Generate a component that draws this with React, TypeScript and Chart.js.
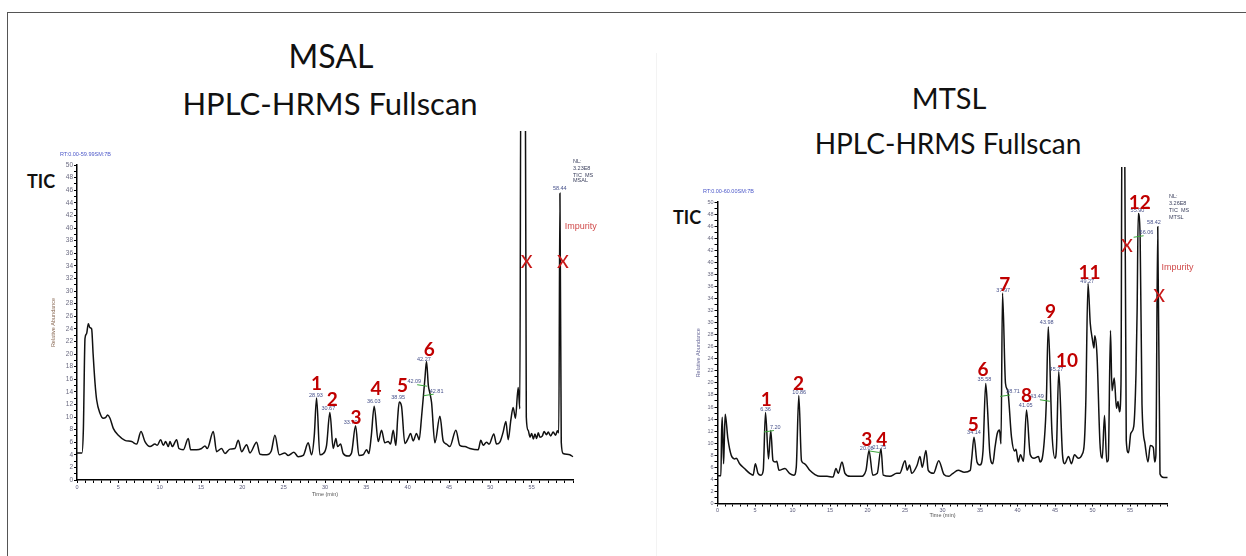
import React, { useEffect, useRef } from 'react';
import { Chart, registerables } from 'chart.js';

Chart.register(...registerables);
Chart.defaults.font.family = '"Liberation Sans", Arial, sans-serif';

// ---------- axis tick labels ----------
const TIME_TICK_LABELS = ['0', '5', '10', '15', '20', '25', '30', '35', '40', '45', '50', '55'];
const ABUND_TICK_LABELS = ['0', '2', '4', '6', '8', '10', '12', '14', '16', '18', '20', '22', '24', '26', '28', '30', '32', '34', '36', '38', '40', '42', '44', '46', '48', '50'];

// ---------- MSAL chromatogram (time, min / relative abundance, %) ----------
const MSAL_TIME = [0, 0.6, 0.77, 0.97, 1.15, 1.37, 1.55, 1.77, 1.95, 2.18, 2.38, 2.78, 3.18, 3.45, 3.71, 3.99, 4.39, 5.0, 5.8, 6.61, 7.22, 7.74, 8.22, 8.83, 9.43, 9.71, 10.12, 10.44, 10.72, 11.04, 11.25, 11.53, 12.05, 12.33, 12.86, 13.46, 13.74, 14.47, 15.07, 15.48, 15.76, 16.49, 16.89, 17.49, 17.9, 18.5, 19.1, 19.51, 19.91, 20.52, 20.92, 21.73, 22.13, 22.93, 23.5, 23.94, 24.47, 25.15, 25.55, 26.24, 26.76, 27.37, 27.97, 28.38, 28.7, 28.98, 29.38, 29.8, 30.19, 30.59, 30.99, 31.32, 31.52, 31.88, 32.2, 32.81, 33.21, 33.7, 34.1, 34.62, 35.03, 35.31, 35.6, 35.95, 36.44, 36.84, 37.24, 37.65, 37.93, 38.25, 38.57, 38.8, 38.98, 39.26, 39.66, 40.06, 40.35, 40.67, 41.07, 41.39, 41.68, 42.08, 42.28, 42.5, 42.69, 42.89, 43.29, 43.9, 44.3, 44.7, 45.1, 45.83, 46.31, 46.92, 47.52, 48.53, 48.85, 49.13, 49.54, 49.86, 50.42, 50.75, 51.15, 51.55, 51.88, 52.16, 52.48, 52.76, 53.04, 53.37, 53.57, 53.7, 54.22, 54.35, 54.57, 54.8, 55.0, 55.2, 55.4, 55.6, 55.8, 56.0, 56.3, 56.5, 56.8, 57.0, 57.3, 57.6, 57.9, 58.1, 58.28, 58.42, 58.58, 58.81, 59.61, 60.0];
const MSAL_ABUND = [4.3, 4.3, 8, 22.5, 23.2, 24.8, 24.2, 24.0, 20, 15.4, 12.7, 10.6, 9.8, 9.9, 10.3, 9.8, 8.2, 7.1, 6.3, 6.1, 5.7, 7.7, 6.1, 5.3, 5.7, 5.5, 6.4, 5.5, 6.1, 5.3, 6.1, 5.3, 6.4, 5.0, 4.8, 6.6, 4.8, 4.8, 5.0, 5.4, 5.0, 7.7, 4.5, 5.0, 4.2, 4.9, 5.0, 6.3, 4.5, 5.6, 4.3, 6.0, 4.1, 4.0, 4.6, 7.1, 4.0, 4.3, 3.9, 4.4, 3.7, 3.9, 5.9, 4.0, 7, 13.0, 4.0, 4.2, 5.5, 10.7, 5.0, 6.6, 5.3, 5.7, 4.2, 3.8, 4.3, 8.6, 3.9, 4.0, 4.8, 4.2, 7, 11.7, 6.1, 7.9, 5.9, 6.1, 5.7, 7.9, 5.5, 10, 12.4, 11.7, 5.8, 6.6, 7.4, 6.2, 7.4, 6.4, 10, 16, 18.8, 15, 13.8, 12.3, 5.9, 10.1, 6.2, 5.7, 5.3, 7.9, 5.5, 5.3, 5.0, 4.8, 6.3, 5.5, 6.0, 5.7, 7.3, 5.7, 6.0, 7.6, 9.3, 6.4, 9.5, 11.5, 9.8, 14.7, 11.3, 70, 70, 10, 7.9, 6.8, 7.4, 6.5, 7.3, 6.6, 7.5, 6.8, 7.0, 7.7, 7.2, 7.6, 7.0, 7.6, 7.1, 7.8, 7.5, 45.5, 6, 4.2, 4.0, 3.7];

const MSAL_PEAK_NUMS = ['1', '2', '3', '4', '5', '6'];
const MSAL_PEAK_NUM_T = [28.98, 30.87, 33.74, 36.16, 39.38, 42.6];
const MSAL_PEAK_NUM_V = [15.3, 12.7, 9.9, 14.4, 14.9, 20.6];
const MSAL_RT_LABELS = ['28.93', '30.67', '33.70', '36.03', '38.95', '42.09', '42.27', '42.81', '58.44'];
const MSAL_RT_T = [28.9, 30.4, 33.1, 35.9, 38.85, 40.8, 41.96, 43.5, 58.4];
const MSAL_RT_V = [13.4, 11.3, 9.2, 12.5, 13.1, 15.6, 19.2, 14.1, 46.2];
const MSAL_RT_LEADER = [0, 0, 0, 0, 0, 1, 0, -1, 0];
const MSAL_X_T = [54.4, 58.77];
const MSAL_X_V = [34.6, 34.6];
const MSAL_IMPURITY = [59.0, 40.3];
const MSAL_NL_LINES = ['NL:', '3.23E8', 'TIC  MS', 'MSAL'];
const MSAL_NL_V = [50.5, 49.5, 48.4, 47.5];
const MSAL_RT_RANGE = 'RT:0.00-59.99SM:7B';

// ---------- MTSL chromatogram ----------
const MTSL_TIME = [0, 0.45, 0.55, 0.63, 0.81, 0.9, 1.03, 1.38, 1.83, 2.28, 2.5, 2.95, 3.6, 4.3, 4.75, 5.05, 5.4, 5.8, 6.1, 6.4, 6.8, 7.1, 7.4, 7.7, 7.9, 8.2, 9.0, 9.6, 10.2, 10.5, 10.84, 11.2, 11.6, 12.3, 13.0, 13.7, 14.6, 15.4, 15.8, 16.1, 16.6, 17.0, 17.7, 19.1, 19.8, 20.2, 20.7, 21.3, 21.8, 22.1, 23.0, 23.9, 24.3, 25.0, 25.3, 25.6, 25.9, 26.6, 27.0, 27.3, 27.8, 28.1, 28.8, 29.5, 30.2, 30.8, 31.3, 32.1, 32.9, 33.7, 33.9, 34.2, 34.6, 35.0, 35.4, 35.76, 36.0, 36.3, 36.7, 37.0, 37.3, 37.6, 37.8, 38.0, 38.4, 38.7, 39.2, 39.6, 39.8, 40.1, 40.4, 40.8, 41.2, 41.7, 42.2, 42.8, 43.0, 43.3, 43.7, 43.85, 44.1, 44.6, 45.0, 45.2, 45.5, 46.0, 46.3, 46.8, 47.2, 47.6, 48.1, 48.6, 48.9, 49.1, 49.4, 49.7, 50.0, 50.2, 50.3, 50.6, 51.0, 51.3, 51.6, 51.9, 52.1, 52.4, 52.6, 52.9, 53.2, 53.4, 53.6, 53.8, 53.95, 54.25, 54.5, 54.8, 55.1, 55.5, 55.8, 55.95, 56.1, 56.35, 56.6, 57.0, 57.4, 57.7, 58.1, 58.3, 58.45, 58.7, 59.0, 59.5, 60.0];
const MTSL_ABUND = [4.6, 4.6, 12, 14.3, 6.6, 10, 14.8, 10.8, 8.0, 7.4, 7.5, 6.6, 5.8, 5.0, 4.7, 6.6, 5.0, 4.7, 5.5, 15.1, 7.4, 12.1, 7.1, 6.9, 7.0, 5.5, 5.8, 5.0, 4.7, 6, 17.9, 7.1, 6.6, 5.5, 4.8, 4.5, 4.5, 4.4, 5.8, 5.0, 6.9, 5.0, 4.5, 4.5, 5.5, 8.8, 4.7, 5.0, 9.1, 4.7, 4.5, 5.0, 5.0, 7.1, 5.5, 6.4, 5.0, 6.3, 7.8, 6.0, 8.8, 5.5, 5.0, 7.1, 4.8, 4.5, 4.9, 5.5, 5.2, 5.5, 7.5, 11.0, 6.9, 6.4, 8.7, 19.9, 15.8, 8.5, 6.6, 9.3, 11.6, 12.2, 9.9, 34.9, 19.9, 18.7, 11.0, 8.7, 9.0, 6.9, 8.1, 7.0, 15.5, 8.1, 7.5, 7.8, 6.9, 7.5, 12.8, 17.2, 29.3, 11.6, 7.5, 9.3, 21.9, 8.1, 6.6, 7.8, 6.6, 8.1, 7.5, 8.1, 9.9, 16.4, 36.5, 29.9, 27.1, 25.8, 27.8, 24.6, 9.9, 7.5, 14.6, 6.9, 7.2, 28.7, 18.7, 20.8, 15.8, 16.9, 15.2, 19.9, 70, 70, 10.5, 8.4, 11.6, 12.8, 21.6, 32, 48.1, 44.4, 16.4, 9.9, 6.9, 9.6, 9.3, 6.9, 8, 45.9, 4.9, 4.3, 4.3];

const MTSL_PEAK_NUMS = ['1', '2', '3', '4', '5', '6', '7', '8', '9', '10', '11', '12'];
const MTSL_PEAK_NUM_T = [6.5, 10.8, 19.9, 21.9, 34.1, 35.4, 38.3, 41.2, 44.4, 46.6, 49.6, 56.3];
const MTSL_PEAK_NUM_V = [17.2, 19.9, 10.5, 10.6, 13.0, 22.1, 36.2, 17.8, 31.8, 23.6, 38.2, 49.9];
const MTSL_RT_LABELS = ['6.36', '7.20', '10.86', '20.08', '21.75', '34.14', '35.58', '37.97', '38.71', '41.05', '43.49', '43.98', '45.27', '49.27', '55.90', '56.06', '58.42'];
const MTSL_RT_T = [6.4, 7.7, 10.9, 19.9, 21.6, 34.2, 35.6, 38.1, 39.4, 41.1, 42.6, 43.9, 45.2, 49.3, 56.0, 57.2, 58.2];
const MTSL_RT_V = [15.6, 12.6, 18.4, 9.2, 9.3, 11.7, 20.5, 35.3, 18.5, 16.2, 17.7, 30.1, 22.3, 36.8, 48.6, 44.9, 46.6];
const MTSL_RT_LEADER = [0, -1, 0, 1, 0, 0, 0, 0, -1, 0, 1, 0, 0, 0, 0, -1, 0];
const MTSL_X_T = [54.6, 58.9];
const MTSL_X_V = [42.7, 34.4];
const MTSL_IMPURITY = [59.2, 39.1];
const MTSL_NL_LINES = ['NL:', '3.26E8', 'TIC  MS', 'MTSL'];
const MTSL_NL_V = [50.9, 49.8, 48.6, 47.5];
const MTSL_RT_RANGE = 'RT:0.00-60.00SM:7B';

type Spec = {
  time: number[];
  abund: number[];
  peakNums: string[];
  peakT: number[];
  peakV: number[];
  rtLabels: string[];
  rtT: number[];
  rtV: number[];
  rtLeader: number[];
  xT: number[];
  xV: number[];
  impurity: number[];
  nlLines: string[];
  nlT: number;
  nlV: number[];
  rtRange: string;
  rtRangeT: number;
  rtRangeV: number;
  clipTop: number;
  padding: { left: number; right: number; top: number; bottom: number };
  yAxisW: number;
  xAxisH: number;
  yTickSize: number;
  yTitleColor: string;
};

function makeAnnotationPlugin(spec: Spec) {
  return {
    id: 'chromAnnotations',
    afterDatasetsDraw(chart: any) {
      const ctx = chart.ctx as CanvasRenderingContext2D;
      const xs = chart.scales.x;
      const ys = chart.scales.y;
      const X = (t: number) => xs.getPixelForValue(t);
      const Y = (v: number) => ys.getPixelForValue(v);
      ctx.save();
      ctx.textBaseline = 'middle';

      ctx.font = '5.5px "Liberation Sans"';
      ctx.textAlign = 'left';
      ctx.fillStyle = '#4b57c8';
      ctx.fillText(spec.rtRange, X(spec.rtRangeT), Y(spec.rtRangeV));

      ctx.fillStyle = '#3a3f5c';
      spec.nlLines.forEach((s, i) => ctx.fillText(s, X(spec.nlT), Y(spec.nlV[i])));

      ctx.textAlign = 'center';
      spec.rtLabels.forEach((s, i) => {
        const x = X(spec.rtT[i]);
        const y = Y(spec.rtV[i]);
        ctx.fillStyle = '#46508a';
        ctx.fillText(s, x, y);
        const dir = spec.rtLeader[i];
        if (dir !== 0) {
          const w = ctx.measureText(s).width;
          const x0 = dir > 0 ? x + w / 2 - 4 : x - w / 2 + 4;
          ctx.strokeStyle = '#3aa53a';
          ctx.lineWidth = 1;
          ctx.beginPath();
          ctx.moveTo(x0, y + 3);
          ctx.lineTo(x0 + dir * 10, y + 4.5);
          ctx.stroke();
        }
      });

      ctx.fillStyle = '#c00000';
      ctx.font = 'bold 19px Lato';
      spec.peakNums.forEach((s, i) => ctx.fillText(s, X(spec.peakT[i]), Y(spec.peakV[i])));

      ctx.font = '500 18px Lato';
      ctx.fillStyle = '#c81818';
      spec.xT.forEach((t, i) => ctx.fillText('X', X(t), Y(spec.xV[i])));

      ctx.font = '9px "Liberation Sans"';
      ctx.fillStyle = '#d04a4a';
      ctx.textAlign = 'left';
      ctx.fillText('Impurity', X(spec.impurity[0]), Y(spec.impurity[1]));
      ctx.restore();
    },
  };
}

function buildConfig(spec: Spec): any {
  const points = spec.time.map((t, i) => ({ x: t, y: spec.abund[i] }));
  return {
    type: 'line',
    data: {
      datasets: [
        {
          data: points,
          borderColor: '#111',
          borderWidth: 1.5,
          pointRadius: 0,
          fill: false,
          cubicInterpolationMode: 'monotone',
          clip: { left: 2, right: 2, top: spec.clipTop, bottom: 2 },
        },
      ],
    },
    options: {
      animation: false,
      responsive: false,
      events: [],
      layout: { padding: spec.padding },
      plugins: { legend: { display: false }, tooltip: { enabled: false }, title: { display: false } },
      scales: {
        x: {
          type: 'linear',
          min: 0,
          max: 60,
          afterFit: (s: any) => {
            s.height = spec.xAxisH;
          },
          ticks: {
            stepSize: 1,
            autoSkip: false,
            maxRotation: 0,
            minRotation: 0,
            padding: 1,
            font: { size: 5.5 },
            color: '#5a5a7a',
            callback: (v: any) => (TIME_TICK_LABELS.includes(String(v)) ? String(v) : ''),
          },
          grid: { drawOnChartArea: false, drawTicks: true, tickLength: 3, color: '#000', lineWidth: 1 },
          border: { display: true, color: '#000', width: 1.5 },
          title: { display: true, text: 'Time (min)', font: { size: 5.5 }, color: '#555', padding: 0 },
        },
        y: {
          type: 'linear',
          min: 0,
          max: 50,
          afterFit: (s: any) => {
            s.width = spec.yAxisW;
          },
          ticks: {
            stepSize: 1,
            autoSkip: false,
            padding: 1,
            font: { size: spec.yTickSize },
            color: '#6a6a80',
            callback: (v: any) => (ABUND_TICK_LABELS.includes(String(v)) ? String(v) : ''),
          },
          grid: { drawOnChartArea: false, drawTicks: true, tickLength: 3, color: '#000', lineWidth: 1 },
          border: { display: true, color: '#000', width: 1.5 },
          title: { display: true, text: 'Relative Abundance', font: { size: 5.5 }, color: spec.yTitleColor, padding: 0 },
        },
      },
    },
    plugins: [makeAnnotationPlugin(spec)],
  };
}

const MSAL_SPEC: Spec = {
  time: MSAL_TIME,
  abund: MSAL_ABUND,
  peakNums: MSAL_PEAK_NUMS,
  peakT: MSAL_PEAK_NUM_T,
  peakV: MSAL_PEAK_NUM_V,
  rtLabels: MSAL_RT_LABELS,
  rtT: MSAL_RT_T,
  rtV: MSAL_RT_V,
  rtLeader: MSAL_RT_LEADER,
  xT: MSAL_X_T,
  xV: MSAL_X_V,
  impurity: MSAL_IMPURITY,
  nlLines: MSAL_NL_LINES,
  nlT: 60,
  nlV: MSAL_NL_V,
  rtRange: MSAL_RT_RANGE,
  rtRangeT: -2.05,
  rtRangeV: 51.6,
  clipTop: 34,
  padding: { left: 50, right: 47, top: 165, bottom: 58 },
  yAxisW: 27,
  xAxisH: 18,
  yTickSize: 6.5,
  yTitleColor: '#8a6a55',
};

const MTSL_SPEC: Spec = {
  time: MTSL_TIME,
  abund: MTSL_ABUND,
  peakNums: MTSL_PEAK_NUMS,
  peakT: MTSL_PEAK_NUM_T,
  peakV: MTSL_PEAK_NUM_V,
  rtLabels: MTSL_RT_LABELS,
  rtT: MTSL_RT_T,
  rtV: MTSL_RT_V,
  rtLeader: MTSL_RT_LEADER,
  xT: MTSL_X_T,
  xV: MTSL_X_V,
  impurity: MTSL_IMPURITY,
  nlLines: MTSL_NL_LINES,
  nlT: 60.2,
  nlV: MTSL_NL_V,
  rtRange: MTSL_RT_RANGE,
  rtRangeT: -1.93,
  rtRangeV: 51.7,
  clipTop: 35,
  padding: { left: 75.5, right: 78.5, top: 202, bottom: 37.5 },
  yAxisW: 22,
  xAxisH: 15,
  yTickSize: 5.5,
  yTitleColor: '#6a6a9a',
};

function ChromCanvas({ spec, left, width }: { spec: Spec; left: number; width: number }) {
  const ref = useRef<HTMLCanvasElement | null>(null);
  useEffect(() => {
    if (!ref.current) return;
    const chart = new Chart(ref.current, buildConfig(spec));
    return () => chart.destroy();
  }, [spec]);
  return (
    <canvas
      ref={ref}
      width={width}
      height={556}
      style={{ position: 'absolute', left, top: 0, width, height: 556 }}
    />
  );
}

const titleStyle = (cx: number, top: number, size: number): React.CSSProperties => ({
  position: 'absolute',
  left: cx,
  top,
  transform: 'translateX(-50%)',
  fontFamily: 'Lato, "Open Sans", sans-serif',
  fontSize: size,
  lineHeight: `${size}px`,
  whiteSpace: 'nowrap',
  color: '#111',
});

const ticStyle = (left: number, top: number): React.CSSProperties => ({
  position: 'absolute',
  left,
  top,
  fontFamily: 'Lato, "Open Sans", sans-serif',
  fontWeight: 700,
  fontSize: 18,
  lineHeight: '18px',
  color: '#111',
});

export default function App() {
  return (
    <div style={{ position: 'absolute', left: 0, top: 0, width: 1246, height: 556, background: '#fff', overflow: 'hidden' }}>
      <div style={{ position: 'absolute', left: 7, top: 12, width: 1260, height: 560, borderTop: '1px solid #555', borderLeft: '1px solid #555' }} />
      <div style={{ position: 'absolute', left: 656, top: 53, width: 1, height: 510, background: '#f3f3f3' }} />
      <div style={titleStyle(331, 40, 32)}>MSAL</div>
      <div style={titleStyle(330, 88, 31)}>HPLC-HRMS Fullscan</div>
      <div style={titleStyle(949, 83, 29)}>MTSL</div>
      <div style={titleStyle(948, 129, 28)}>HPLC-HRMS Fullscan</div>
      <div style={ticStyle(27, 172)}>TIC</div>
      <div style={ticStyle(673, 208)}>TIC</div>
      <ChromCanvas spec={MSAL_SPEC} left={0} width={620} />
      <ChromCanvas spec={MTSL_SPEC} left={620} width={626} />
    </div>
  );
}
